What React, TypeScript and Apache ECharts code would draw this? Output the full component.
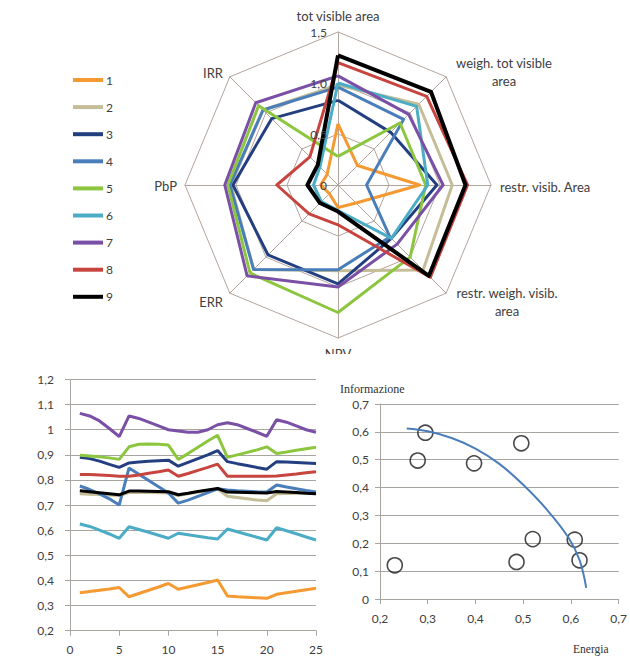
import React, { useEffect, useRef } from "react";
import * as echarts from "echarts";

// ---------- data ----------
const seriesNames = ["1", "2", "3", "4", "5", "6", "7", "8", "9"];
const seriesColors = ["#f59a32", "#c4bd97", "#243f80", "#4a7ebb", "#8cc63e", "#4bacc6", "#7a4fa6", "#c8443f", "#000000"];

// radar indicators, in ECharts order (counter-clockwise from top)
const radarIndicators = [
  "tot visible area",
  "IRR",
  "PbP",
  "ERR",
  "NPV",
  "restr. weigh. visib. area",
  "restr. visib. Area",
  "weigh. tot visible area",
];
const radarTickLabels = ["0", "0,5", "1,0", "1,5"];
const radarTickValues = [0, 0.5, 1.0, 1.5];

const radar1 = [0.6, 0.15, 0.17, 0.12, 0.22, 0.25, 0.8, 0.27];
const radar2 = [0.98, 1.04, 1.05, 1.17, 0.84, 1.18, 1.12, 1.12];
const radar3 = [0.83, 0.92, 1.03, 0.97, 0.97, 0.74, 0.97, 0.73];
const radar4 = [0.96, 1.04, 1.06, 1.17, 0.83, 0.72, 0.28, 0.91];
const radar5 = [0.28, 1.1, 1.08, 1.22, 1.25, 1.0, 0.86, 0.86];
const radar6 = [1.0, 0.25, 0.24, 0.23, 0.25, 0.74, 0.88, 1.09];
const radar7 = [1.07, 1.14, 1.11, 1.26, 1.0, 0.82, 1.03, 0.98];
const radar8 = [1.2, 0.39, 0.6, 0.4, 0.39, 1.28, 1.27, 1.23];
const radar9 = [1.27, 0.28, 0.3, 0.25, 0.26, 1.26, 1.25, 1.29];

const lineX = [1, 2, 3, 4, 5, 6, 7, 8, 9, 10, 11, 12, 13, 14, 15, 16, 17, 18, 19, 20, 21, 22, 23, 24, 25];
const line1 = [0.351, 0.356, 0.361, 0.366, 0.372, 0.335, 0.348, 0.361, 0.374, 0.388, 0.365, 0.374, 0.383, 0.392, 0.402, 0.338, 0.335, 0.333, 0.331, 0.329, 0.345, 0.351, 0.357, 0.363, 0.369];
const line2 = [0.745, 0.743, 0.742, 0.74, 0.738, 0.75, 0.75, 0.75, 0.749, 0.748, 0.738, 0.745, 0.752, 0.758, 0.765, 0.735, 0.73, 0.725, 0.72, 0.717, 0.745, 0.746, 0.747, 0.748, 0.749];
const line3 = [0.89, 0.885, 0.875, 0.862, 0.85, 0.868, 0.872, 0.875, 0.877, 0.879, 0.855, 0.87, 0.885, 0.9, 0.917, 0.873, 0.865, 0.858, 0.85, 0.843, 0.873, 0.872, 0.87, 0.868, 0.866];
const line4 = [0.776, 0.762, 0.745, 0.725, 0.7, 0.848, 0.823, 0.798, 0.773, 0.748, 0.708, 0.72, 0.735, 0.75, 0.765, 0.76, 0.757, 0.755, 0.753, 0.752, 0.78, 0.772, 0.765, 0.758, 0.752];
const line5 = [0.898, 0.895, 0.892, 0.888, 0.882, 0.932, 0.942, 0.943, 0.942, 0.939, 0.882, 0.905, 0.93, 0.955, 0.978, 0.89, 0.9, 0.91, 0.92, 0.932, 0.905, 0.911, 0.918, 0.924, 0.93];
const line6 = [0.625, 0.615, 0.6, 0.585, 0.568, 0.614, 0.603, 0.592, 0.58, 0.568, 0.588, 0.582, 0.576, 0.57, 0.565, 0.605, 0.594, 0.583, 0.572, 0.561, 0.61, 0.598, 0.586, 0.573, 0.561];
const line7 = [1.065, 1.055, 1.035, 1.005, 0.973, 1.055, 1.045, 1.03, 1.015, 1.0, 0.995, 0.99, 0.99, 1.0, 1.02, 1.028, 1.02, 1.005, 0.99, 0.974, 1.04, 1.03, 1.015, 1.0, 0.99];
const line8 = [0.822, 0.822, 0.82, 0.818, 0.815, 0.815, 0.82, 0.827, 0.833, 0.84, 0.815, 0.826, 0.838, 0.85, 0.863, 0.815, 0.815, 0.815, 0.815, 0.815, 0.816, 0.82, 0.824, 0.829, 0.833];
const line9 = [0.757, 0.753, 0.749, 0.745, 0.741, 0.756, 0.756, 0.755, 0.754, 0.753, 0.741, 0.747, 0.754, 0.76, 0.766, 0.752, 0.751, 0.75, 0.749, 0.748, 0.754, 0.752, 0.75, 0.747, 0.745];

const energia = [0.231, 0.279, 0.295, 0.397, 0.486, 0.496, 0.52, 0.608, 0.618];
const informazione = [0.121, 0.497, 0.597, 0.487, 0.133, 0.559, 0.215, 0.213, 0.139];
const trendEnergia = [0.256, 0.3, 0.35, 0.4, 0.45, 0.5, 0.55, 0.595, 0.618, 0.632];
const trendInformazione = [0.612, 0.602, 0.578, 0.54, 0.485, 0.41, 0.32, 0.22, 0.14, 0.04];

// ---------- layout ----------
const RADAR_CX = 338;
const RADAR_CY = 185;
const RADAR_R = 153;
const RADAR_MAX = 1.5;
const GRID_COLOR = "#b3a59d";
const AXIS_GRAY = "#a8a4a0";
const LABEL_COLOR = "#404040";
const SANS = "Lato, 'Open Sans', sans-serif";
const SERIF = "'Liberation Serif', 'DejaVu Serif', serif";

const fmt = (v: number) => String(Math.round(v * 10) / 10).replace(".", ",");

export default function App() {
  const ref = useRef<HTMLDivElement>(null);

  useEffect(() => {
    document.body.style.margin = "0";
    if (!ref.current) return;
    const chart = echarts.init(ref.current, undefined, { renderer: "svg" });

    const radarValues = [radar1, radar2, radar3, radar4, radar5, radar6, radar7, radar8, radar9];
    const lineValues = [line1, line2, line3, line4, line5, line6, line7, line8, line9];

    const nameText = (text: string, x: number, y: number, align: string) => ({
      type: "text",
      x,
      y,
      z: 10,
      style: {
        text,
        fill: LABEL_COLOR,
        fontSize: 13,
        fontFamily: SANS,
        align,
        verticalAlign: "middle",
        lineHeight: 18,
      },
    });

    const graphics: any[] = [
      nameText("tot visible area", RADAR_CX, 16, "center"),
      nameText("weigh. tot visible\narea", 504, 72, "center"),
      nameText("restr. visib. Area", 500, 187, "left"),
      nameText("restr. weigh. visib.\narea", 507, 302, "center"),
      nameText("NPV", RADAR_CX, 354, "center"),
      nameText("ERR", 223, 302, "right"),
      nameText("PbP", 177, 186, "right"),
      nameText("IRR", 223, 73, "right"),
      {
        type: "rect",
        z: 20,
        shape: { x: 315, y: 354, width: 50, height: 10 },
        style: { fill: "#ffffff" },
      },
      ...radarTickValues.map((v, i) => ({
        type: "text",
        x: RADAR_CX - 11,
        y: RADAR_CY - (v / RADAR_MAX) * RADAR_R,
        z: 5,
        style: {
          text: radarTickLabels[i],
          fill: LABEL_COLOR,
          fontSize: 12,
          fontFamily: SANS,
          align: "right",
          verticalAlign: "middle",
        },
      })),
      {
        type: "text",
        x: 340,
        y: 389,
        style: { text: "Informazione", fill: "#333", fontSize: 12, fontFamily: SERIF, align: "left", verticalAlign: "middle" },
      },
      {
        type: "text",
        x: 573,
        y: 649,
        style: { text: "Energia", fill: "#333", fontSize: 11.5, fontFamily: SERIF, align: "left", verticalAlign: "middle" },
      },
    ];

    const axisCommon = {
      axisLine: { show: true, lineStyle: { color: AXIS_GRAY, width: 1 } },
      axisTick: { show: true, length: 5, lineStyle: { color: AXIS_GRAY } },
      axisLabel: { color: LABEL_COLOR, fontSize: 12, fontFamily: SANS, formatter: (v: number) => fmt(v) },
    };

    const option: any = {
      animation: false,
      backgroundColor: "#ffffff",
      legend: {
        orient: "vertical",
        left: 68,
        top: 69,
        itemWidth: 30,
        itemHeight: 4,
        itemGap: 15.1,
        icon: "rect",
        selectedMode: false,
        data: seriesNames,
        textStyle: { color: LABEL_COLOR, fontSize: 12, fontFamily: SANS, padding: [0, 0, 0, -2] },
      },
      radar: {
        center: [RADAR_CX, RADAR_CY],
        radius: RADAR_R,
        startAngle: 90,
        splitNumber: 3,
        shape: "polygon",
        indicator: radarIndicators.map((name) => ({ name, min: 0, max: RADAR_MAX })),
        axisName: { show: false },
        splitLine: { lineStyle: { color: GRID_COLOR, width: 1 } },
        splitArea: { show: false },
        axisLine: { lineStyle: { color: GRID_COLOR, width: 1 } },
        axisTick: { show: false },
        axisLabel: { show: false },
      },
      grid: [
        { left: 70, top: 379.5, width: 246, height: 251.2, containLabel: false },
        { left: 380, top: 404, width: 245, height: 195, containLabel: false },
      ],
      xAxis: [
        {
          type: "value",
          gridIndex: 0,
          min: 0,
          max: 25,
          interval: 5,
          splitLine: { show: false },
          ...axisCommon,
          axisLabel: { ...axisCommon.axisLabel, margin: 13, formatter: (v: number) => String(v) },
        },
        {
          type: "value",
          gridIndex: 1,
          min: 0.2,
          max: 0.7,
          interval: 0.1,
          splitLine: { show: false },
          ...axisCommon,
          axisLabel: { ...axisCommon.axisLabel, margin: 13 },
        },
      ],
      yAxis: [
        {
          type: "value",
          gridIndex: 0,
          min: 0.2,
          max: 1.2,
          interval: 0.1,
          splitLine: { show: true, lineStyle: { color: AXIS_GRAY, width: 1 } },
          ...axisCommon,
          axisLabel: { ...axisCommon.axisLabel, margin: 16 },
        },
        {
          type: "value",
          gridIndex: 1,
          min: 0,
          max: 0.7,
          interval: 0.1,
          splitLine: { show: true, lineStyle: { color: AXIS_GRAY, width: 1 } },
          ...axisCommon,
          axisLabel: { ...axisCommon.axisLabel, margin: 11 },
        },
      ],
      series: [
        {
          type: "radar",
          symbol: "none",
          data: radarValues.map((vals, i) => ({
            name: seriesNames[i],
            value: vals,
            symbol: "none",
            itemStyle: { color: seriesColors[i] },
            lineStyle: { color: seriesColors[i], width: i === 8 ? 4 : 3 },
          })),
        },
        ...lineValues.map((vals, i) => ({
          type: "line",
          name: seriesNames[i],
          xAxisIndex: 0,
          yAxisIndex: 0,
          symbol: "none",
          color: seriesColors[i],
          lineStyle: { color: seriesColors[i], width: 3 },
          data: lineX.map((x, j) => [x, vals[j]]),
        })),
        {
          type: "line",
          name: "trend",
          xAxisIndex: 1,
          yAxisIndex: 1,
          smooth: 0.4,
          symbol: "none",
          lineStyle: { color: "#4a7ebb", width: 2 },
          data: trendEnergia.map((x, j) => [x, trendInformazione[j]]),
        },
        {
          type: "scatter",
          name: "punti",
          xAxisIndex: 1,
          yAxisIndex: 1,
          symbol: "circle",
          symbolSize: 15,
          itemStyle: { color: "rgba(255,255,255,0)", borderColor: "#1a1a1a", borderWidth: 1.6 },
          data: energia.map((x, j) => [x, informazione[j]]),
        },
      ],
      graphic: graphics,
    };

    chart.setOption(option);
    return () => chart.dispose();
  }, []);

  return <div ref={ref} style={{ position: "absolute", left: 0, top: 0, width: 630, height: 657 }} />;
}
